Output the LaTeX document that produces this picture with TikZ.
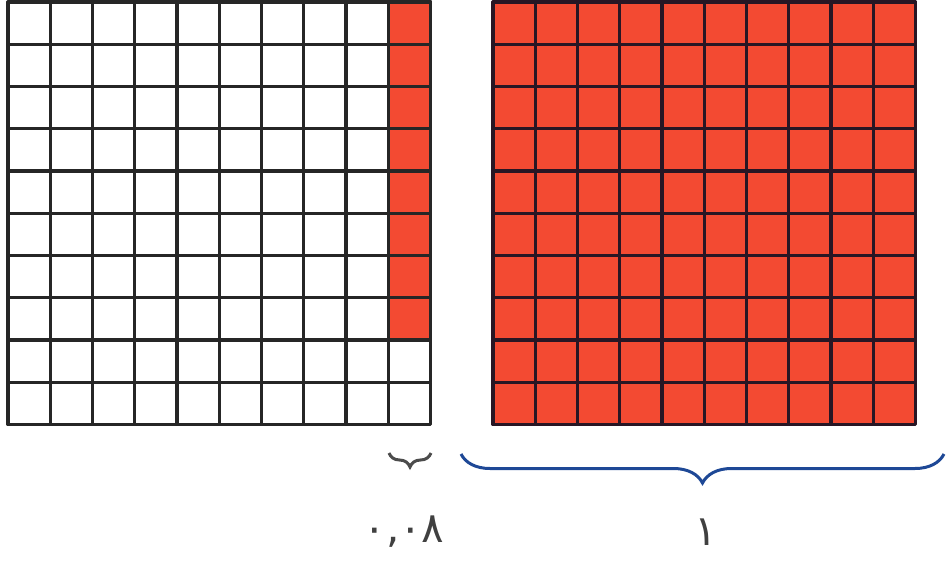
\documentclass[tikz,border=0pt]{standalone}
\usepackage{fontspec}
\newfontfamily\digitfont{DejaVu Sans}
\usetikzlibrary{decorations.pathreplacing}
\definecolor{cellred}{RGB}{243,74,50}
\definecolor{gridnavy}{RGB}{40,22,36}
\definecolor{braceblue}{RGB}{30,72,150}
\begin{document}
\begin{tikzpicture}[x=1pt,y=-1pt,
  cell/.style={draw=black!85,line width=3.2pt,line join=round},
  redcell/.style={cell,draw=gridnavy,fill=cellred},
  brc/.style={decorate,decoration={brace,mirror,amplitude=#1},line width=3pt},
  lbl/.style={font=\digitfont\fontsize{42}{46}\selectfont,text=black!75}]
\useasboundingbox (0,0) rectangle (946,571);
\def\sz{42.25}
\foreach \c in {0,...,9} \foreach \r in {0,...,9}
  \draw[cell] (8+\c*\sz,2+\r*\sz) rectangle ++(\sz,\sz);
\foreach \r in {0,...,7}
  \draw[redcell,draw=black!85] (8+9*\sz,2+\r*\sz) rectangle ++(\sz,\sz);
\foreach \c in {0,...,9} \foreach \r in {0,...,9}
  \draw[redcell] (493+\c*\sz,2+\r*\sz) rectangle ++(\sz,\sz);
\coordinate (sl) at (389,453); \coordinate (sr) at (431,453);
\coordinate (bl) at (461,454); \coordinate (br) at (944,454);
\draw[brc=14,draw=black!70] (sl) -- (sr);
\draw[brc=29,draw=braceblue] (bl) -- (br);
\node[lbl] (small) at (404,532) {٠,٠٨};
\node[lbl] (one) at (706,532) {١};
\end{tikzpicture}
\end{document}
